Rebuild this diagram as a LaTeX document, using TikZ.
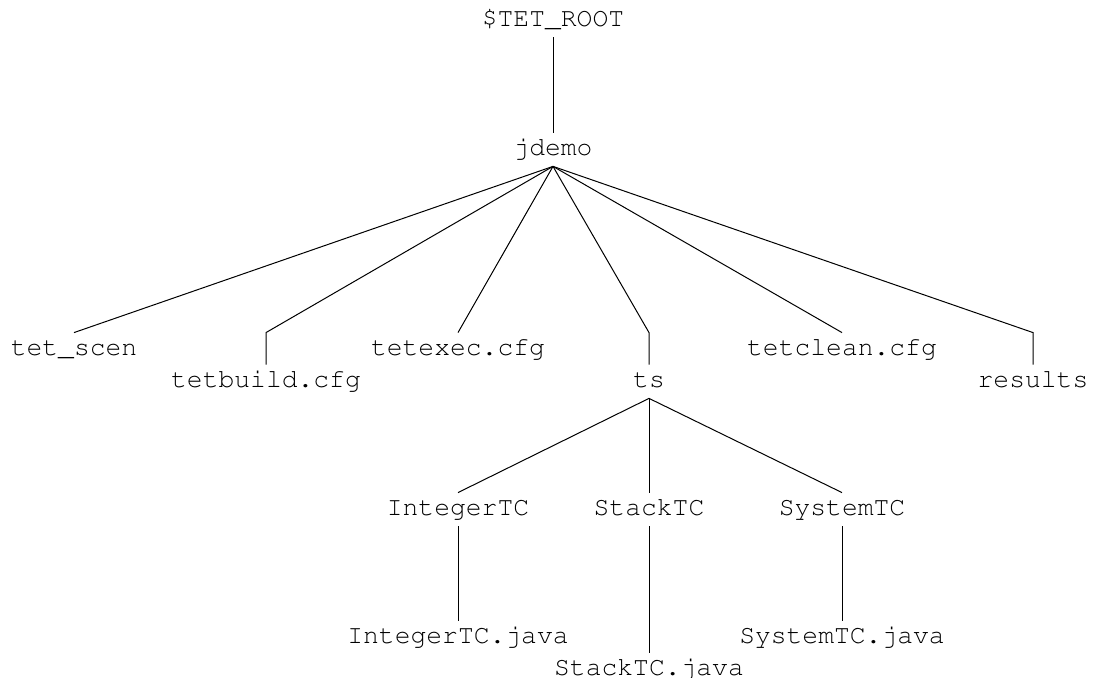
\documentclass[tikz,border=0pt]{standalone}
\usepackage[T1]{fontenc}
\renewcommand{\ttdefault}{pcr}
\usepackage{tikz}

\begin{document}
\begin{tikzpicture}[x=0.5pt,y=0.5pt,
        dir/.style={font=\ttfamily\fontsize{13.17pt}{16pt}\selectfont,
            inner sep=0pt, text height=11.5pt, text depth=5pt, anchor=base},
        link/.style={line width=0.5pt}]
        \useasboundingbox (0,0) rectangle (1093,678);
        \node[dir] (root) at (553,651) {\$TET\_ROOT};
        \node[dir] (jdemo) at (553,522) {jdemo};
        \node[dir] (scen) at (74,322) {tet\_scen};
        \node[dir] (build) at (266,290) {tetbuild.cfg};
        \node[dir] (exec) at (458,322) {tetexec.cfg};
        \node[dir] (ts) at (649,290) {ts};
        \node[dir] (clean) at (842,322) {tetclean.cfg};
        \node[dir] (results) at (1033,290) {results};
        \node[dir] (itc) at (458,162) {IntegerTC};
        \node[dir] (stc) at (649,162) {StackTC};
        \node[dir] (sysc) at (842,162) {SystemTC};
        \node[dir] (itcj) at (458,34) {IntegerTC.java};
        \node[dir] (stcj) at (649,2) {StackTC.java};
        \node[dir] (sysj) at (842,34) {SystemTC.java};
        \draw[link] (root.south) -- (jdemo.north);
        \draw[link] (jdemo.south) -- (scen.north);
        \draw[link] (jdemo.south) -- (build.north |- scen.north) -- (build.north);
        \draw[link] (jdemo.south) -- (exec.north);
        \draw[link] (jdemo.south) -- (ts.north |- scen.north) -- (ts.north);
        \draw[link] (jdemo.south) -- (clean.north);
        \draw[link] (jdemo.south) -- (results.north |- scen.north) -- (results.north);
        \draw[link] (ts.south) -- (itc.north);
        \draw[link] (ts.south) -- (stc.north);
        \draw[link] (ts.south) -- (sysc.north);
        \draw[link] (itc.south) -- (itcj.north);
        \draw[link] (stc.south) -- (stcj.north);
        \draw[link] (sysc.south) -- (sysj.north);
    \end{tikzpicture}
\end{document}
